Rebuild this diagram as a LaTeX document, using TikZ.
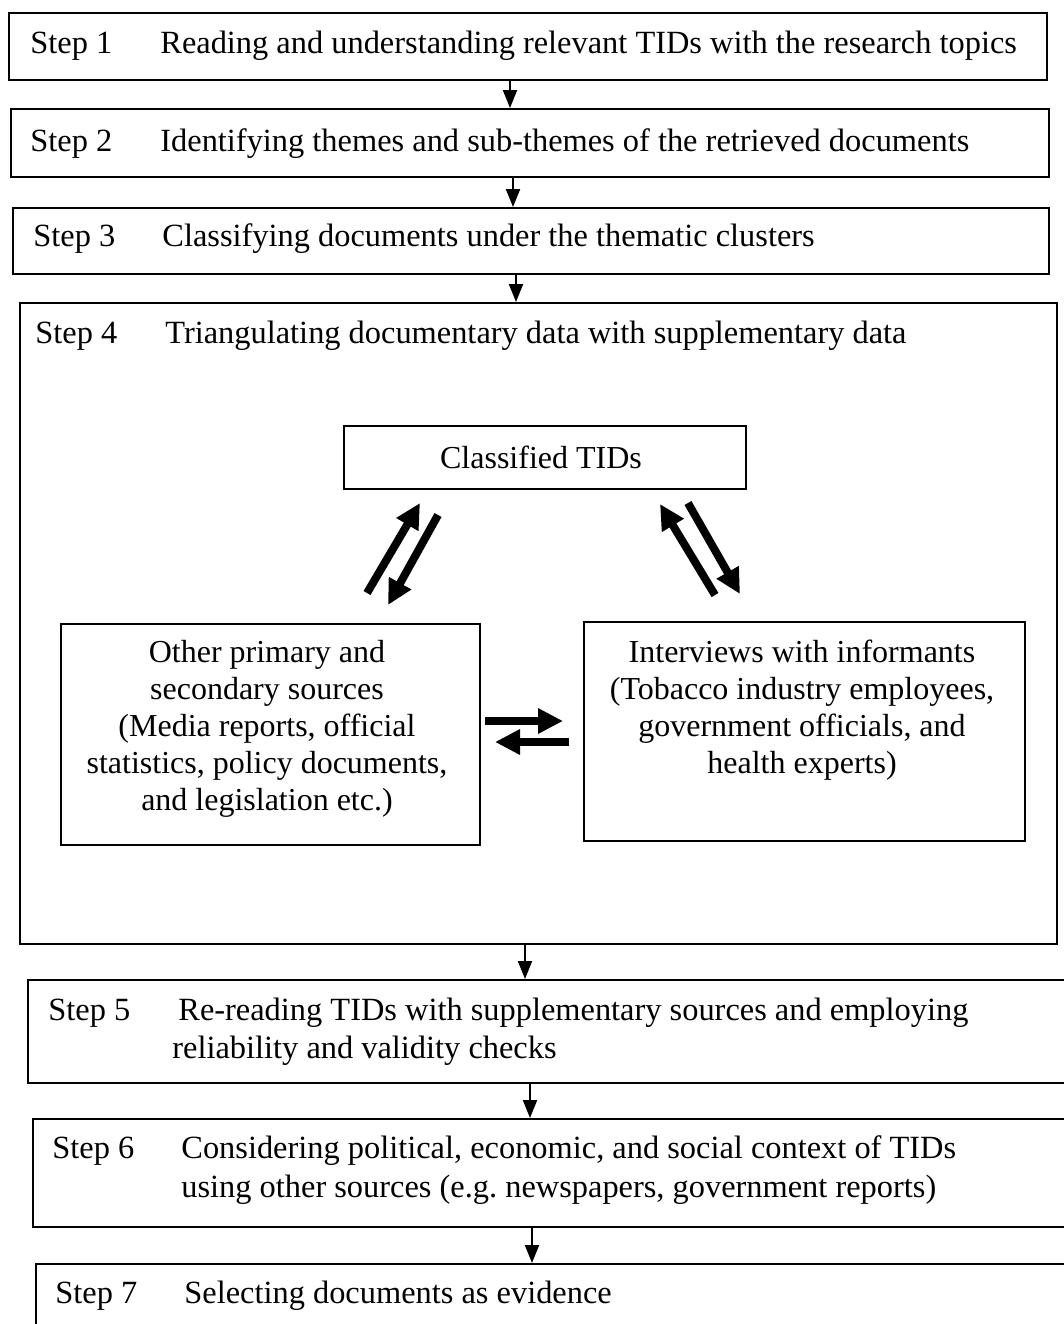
\documentclass[tikz,border=0pt]{standalone}
\usepackage{fontspec}
\setmainfont{Liberation Serif}
\usetikzlibrary{arrows.meta}
\frenchspacing
\begin{document}
\begin{tikzpicture}[x=0.5pt,y=-0.5pt,
  stepbox/.style={draw, line width=1.2pt, rectangle, inner sep=0pt, anchor=north west},
  txt/.style={inner sep=0pt, font=\fontsize{16}{18.5}\selectfont},
  lbl/.style={inner sep=0pt, font=\fontsize{16.2}{18.5}\selectfont, anchor=base west},
  block/.style={txt, anchor=north, align=center},
  flow/.style={line width=1pt, -{Triangle[length=9pt,width=7pt]}},
  bold/.style={line width=4pt, -{Triangle[length=12.5pt,width=12pt]}},
]
\useasboundingbox (0,0) rectangle (1064,1324);
\clip (0,0) rectangle (1064,1324);

% ---- step boxes
\node[stepbox, minimum width=519pt,   minimum height=33.5pt]  (b1) at (8,12) {};
\node[stepbox, minimum width=519pt,   minimum height=34pt]    (b2) at (10,108) {};
\node[stepbox, minimum width=518pt,   minimum height=33pt]    (b3) at (12,207) {};
\node[stepbox, minimum width=518.5pt, minimum height=320.5pt] (b4) at (19,302) {};
\node[stepbox, minimum width=524pt,   minimum height=51.5pt]  (b5) at (27,979) {};
\node[stepbox, minimum width=521.5pt, minimum height=54pt]    (b6) at (32,1118) {};
\node[stepbox, minimum width=520pt,   minimum height=38.5pt]  (b7) at (35,1263) {};

% ---- step texts
\node[lbl] (s1) at (30,53)   {Step 1};
\node[lbl] (t1) at (160,53)  {Reading and understanding relevant TIDs with the research topics};
\node[lbl] (s2) at (30,151)  {Step 2};
\node[lbl] (t2) at (160,151) {Identifying themes and sub-themes of the retrieved documents};
\node[lbl] (s3) at (33,246)  {Step 3};
\node[lbl] (t3) at (162,246) {Classifying documents under the thematic clusters};
\node[lbl] (s4) at (35,343)  {Step 4};
\node[lbl] (t4) at (165,343) {Triangulating documentary data with supplementary data};
\node[lbl] (s5) at (48,1020) {Step 5};
\node[lbl] (t5) at (178,1020) {Re-reading TIDs with supplementary sources and employing};
\node[lbl] (t5b) at (172,1058) {reliability and validity checks};
\node[lbl] (s6) at (52,1158) {Step 6};
\node[lbl] (t6) at (181,1158) {Considering political, economic, and social context of TIDs};
\node[lbl] (t6b) at (181,1197) {using other sources (e.g. newspapers, government reports)};
\node[lbl] (s7) at (55,1303) {Step 7};
\node[lbl] (t7) at (184,1303) {Selecting documents as evidence};

% ---- triangulation boxes inside step 4
\node[stepbox, minimum width=201pt,   minimum height=31.5pt]  (ctid) at (343,425) {};
\node[stepbox, minimum width=209.5pt, minimum height=110.5pt] (other) at (60,623) {};
\node[stepbox, minimum width=220.5pt, minimum height=109.5pt] (intv) at (583,621) {};

\node[txt, anchor=base] (ctidt) at (541,468) {Classified TIDs};
\node[block] (othert) at (267,640) {Other primary and\\secondary sources\\(Media reports, official\\statistics, policy documents,\\and legislation etc.)};
\node[block] (intvt) at (802,640) {Interviews with informants\\(Tobacco industry employees,\\government officials, and\\health experts)};

% ---- flow between steps
\coordinate (a1) at (510,0);
\coordinate (a2) at (513,0);
\coordinate (a3) at (516,0);
\coordinate (a4) at (525,0);
\coordinate (a5) at (530,0);
\coordinate (a6) at (532,0);
\draw[flow] (b1.south -| a1) -- (b2.north -| a1);
\draw[flow] (b2.south -| a2) -- (b3.north -| a2);
\draw[flow] (b3.south -| a3) -- (b4.north -| a3);
\draw[flow] (b4.south -| a4) -- (b5.north -| a4);
\draw[flow] (b5.south -| a5) -- (b6.north -| a5);
\draw[flow] (b6.south -| a6) -- (b7.north -| a6);

% ---- two-way exchanges
\coordinate (lu0) at (367,593); \coordinate (lu1) at (420,503);
\coordinate (ld0) at (438,515); \coordinate (ld1) at (388,605);
\coordinate (ru0) at (715,595); \coordinate (ru1) at (660,504);
\coordinate (rd0) at (688,503); \coordinate (rd1) at (740,594);
\coordinate (hr0) at (485,721); \coordinate (hr1) at (563,721);
\coordinate (hl0) at (569,742); \coordinate (hl1) at (495,742);
\draw[bold] (lu0) -- (lu1);
\draw[bold] (ld0) -- (ld1);
\draw[bold] (ru0) -- (ru1);
\draw[bold] (rd0) -- (rd1);
\draw[bold] (hr0) -- (hr1);
\draw[bold] (hl0) -- (hl1);
\end{tikzpicture}
\end{document}
